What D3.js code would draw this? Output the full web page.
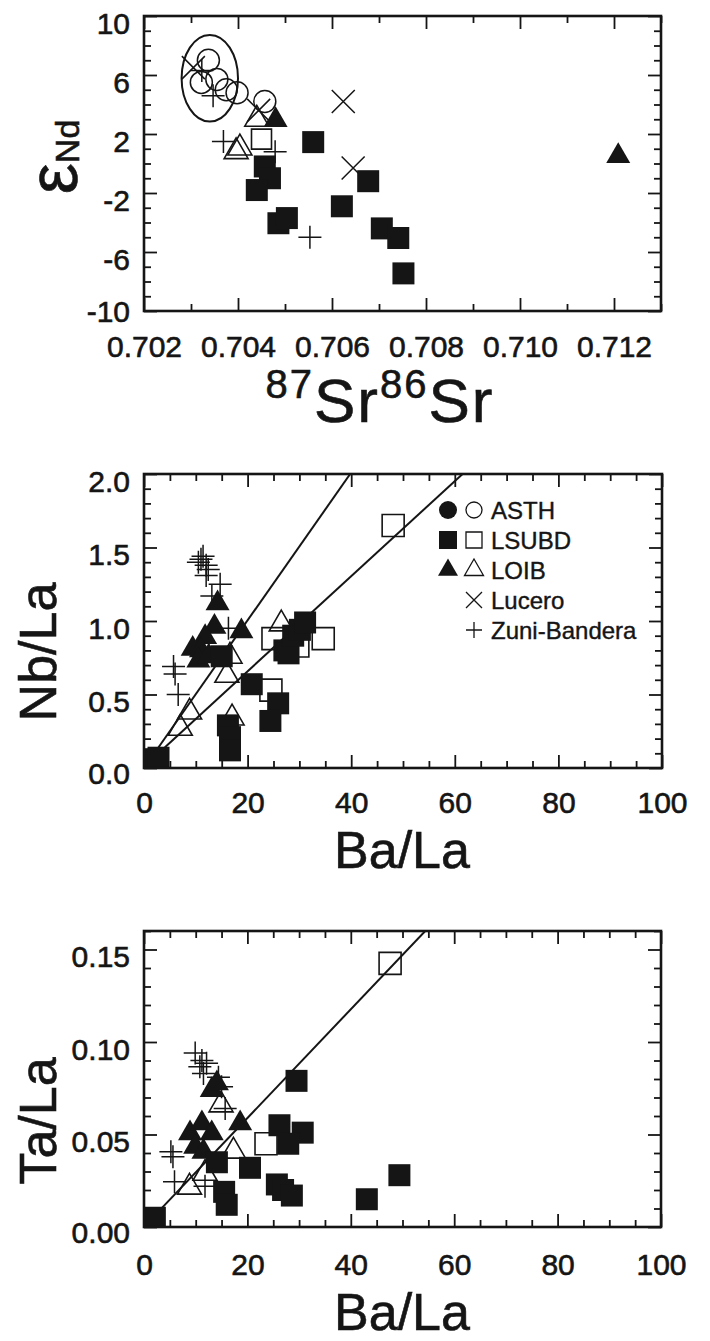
<!DOCTYPE html>
<html><head><meta charset="utf-8">
<script src="https://cdn.jsdelivr.net/npm/d3@7"></script>
<style>body{margin:0;background:#fff}svg{display:block}</style>
</head><body>
<svg id="c" width="710" height="1341"></svg>
<script>
// ---------- Panel 1 : eNd vs 87Sr/86Sr ----------
const p1XTicks = [0.702, 0.704, 0.706, 0.708, 0.710, 0.712];
const p1XMinor = [0.703, 0.705, 0.707, 0.709, 0.711, 0.713];
const p1YTicks = [10, 6, 2, -2, -6, -10];
const p1YMinor = [-9, -8, -7, -5, -4, -3, -1, 0, 1, 3, 4, 5, 7, 8, 9];
const p1Ellipse = [0.70340, 5.78, 0.00060, 2.94]; // centre x, centre y, radius x, radius y (data units)
const p1AsthOpen = [[0.70337, 7.0], [0.70322, 5.5], [0.70355, 5.7], [0.70375, 5.0], [0.70398, 4.8], [0.70457, 4.2]];
const p1Lucero = [[0.70305, 6.5], [0.70444, 3.6], [0.70624, 4.2], [0.70645, -0.3]];
const p1Zuni = [[0.70323, 6.3], [0.70347, 4.6], [0.70369, 1.5], [0.70479, 0.8], [0.70553, -5.0]];
const p1LoibOpen = [[0.70404, 1.05], [0.70396, 0.8], [0.70440, 3.0]];
const p1LoibFilled = [[0.70480, 2.95], [0.71209, 0.5]];
const p1LsubdOpen = [[0.70450, 1.65]];
const p1LsubdFilled = [[0.70560, 1.45], [0.70457, -0.2], [0.70468, -1.0], [0.70440, -1.8], [0.70486, -4.05], [0.70504, -3.7],
  [0.70621, -2.9], [0.70677, -1.2], [0.70706, -4.4], [0.70741, -5.05], [0.70752, -7.45]];

// ---------- Panel 2 : Nb/La vs Ba/La ----------
const p2XTicks = [0, 20, 40, 60, 80, 100];
const p2XMinor = [5, 10, 15, 25, 30, 35, 45, 50, 55, 65, 70, 75, 85, 90, 95];
const p2YTicks = [0.0, 0.5, 1.0, 1.5, 2.0];
const p2YMinor = [0.1, 0.2, 0.3, 0.4, 0.6, 0.7, 0.8, 0.9, 1.1, 1.2, 1.3, 1.4, 1.6, 1.7, 1.8, 1.9];
const p2LineA = [[2, 0.10], [39.8, 2.0]];
const p2LineB = [[4, 0.14], [61.5, 2.0]];
const p2LsubdFilled = [[2.0, 0.06], [2.8, 0.07], [15.0, 0.76], [20.8, 0.57], [25.9, 0.44], [24.4, 0.32], [16.2, 0.29],
  [16.6, 0.21], [16.6, 0.12], [27.1, 0.80], [27.9, 0.78], [28.8, 0.90], [30.1, 0.94], [31.1, 0.99]];
const p2LsubdOpen = [[48.1, 1.65], [24.9, 0.88], [34.6, 0.88], [24.5, 0.53], [29.7, 0.83]];
const p2LoibOpen = [[16.6, 0.76], [16.0, 0.63], [26.5, 0.98], [8.8, 0.38], [7.0, 0.27], [17.0, 0.34]];
const p2LoibFilled = [[14.2, 1.12], [13.6, 0.96], [18.8, 0.93], [11.8, 0.89], [9.4, 0.81], [11.0, 0.80], [10.5, 0.73], [12.5, 0.76]];
const p2Zuni = [[10.5, 1.40], [11.4, 1.44], [12.0, 1.38], [11.0, 1.42], [12.4, 1.35], [12.0, 1.31], [14.7, 1.25],
  [13.1, 1.17], [16.3, 0.95], [5.7, 0.69], [6.0, 0.64], [6.6, 0.50]];
const legendNames = ["ASTH", "LSUBD", "LOIB", "Lucero", "Zuni-Bandera"];

// ---------- Panel 3 : Ta/La vs Ba/La ----------
const p3XTicks = [0, 20, 40, 60, 80, 100];
const p3XMinor = [5, 10, 15, 25, 30, 35, 45, 50, 55, 65, 70, 75, 85, 90, 95];
const p3YTicks = [0.00, 0.05, 0.10, 0.15];
const p3YMinor = [0.01, 0.02, 0.03, 0.04, 0.06, 0.07, 0.08, 0.09, 0.11, 0.12, 0.13, 0.14, 0.16];
const p3Line = [[2, 0.006], [54.4, 0.16]];
const p3LsubdFilled = [[2.1, 0.005], [29.5, 0.079], [26.2, 0.055], [30.7, 0.051], [27.9, 0.045], [20.5, 0.032], [25.7, 0.023],
  [26.9, 0.020], [28.6, 0.017], [43.1, 0.015], [49.4, 0.028], [15.5, 0.019], [16.0, 0.012], [14.1, 0.035]];
const p3LsubdOpen = [[47.6, 0.1425], [23.6, 0.045]];
const p3LoibFilled = [[13.1, 0.074], [14.1, 0.0777], [8.9, 0.0506], [11.2, 0.056], [13.1, 0.0506], [18.6, 0.056], [9.9, 0.0434], [11.5, 0.0407]];
const p3LoibOpen = [[14.9, 0.066], [8.8, 0.0215], [17.3, 0.041], [11.8, 0.029]];
const p3Zuni = [[9.9, 0.094], [11.2, 0.090], [10.8, 0.0866], [12.1, 0.0885], [11.5, 0.083], [14.4, 0.081], [15.0, 0.0758],
  [15.7, 0.064], [5.2, 0.0407], [5.6, 0.038], [5.9, 0.0245], [11.8, 0.022]];

// ---------- drawing ----------
const FONT = "'Liberation Sans', Arial, Helvetica, sans-serif";
const INK = "#151515";
const TICKFS = 30, TITLEFS = 52;
const svg = d3.select("#c");
svg.append("rect").attr("width", 710).attr("height", 1341).attr("fill", "#fff");

const heavy = s => s.attr("stroke", INK).attr("stroke-width", 0.6).attr("paint-order", "stroke");

function makeAxes(g, x, y, xt, xm, yt, ym, xfmt, yfmt, cfg) {
  const [x0, x1] = x.range(), [y0, y1] = y.range();
  const style = a => {
    a.select(".domain").remove();
    a.selectAll("line").attr("stroke", INK).attr("stroke-width", 1.8);
  };
  g.append("g").attr("transform", `translate(0,${y0})`)
    .call(d3.axisBottom(x).tickValues(xm).tickSize(-7).tickFormat("")).call(style);
  const bx = g.append("g").attr("transform", `translate(0,${y0})`)
    .call(d3.axisBottom(x).tickValues(xt).tickSize(-13).tickPadding(cfg.xpad).tickFormat(xfmt)).call(style);
  bx.selectAll("text").attr("font-family", FONT).attr("font-size", TICKFS).attr("fill", INK).call(heavy);
  g.append("g").attr("transform", `translate(0,${y1})`)
    .call(d3.axisTop(x).tickValues(xm).tickSize(-7).tickFormat("")).call(style);
  g.append("g").attr("transform", `translate(0,${y1})`)
    .call(d3.axisTop(x).tickValues(xt).tickSize(-13).tickFormat("")).call(style);
  g.append("g").attr("transform", `translate(${x0},0)`)
    .call(d3.axisLeft(y).tickValues(ym).tickSize(-7).tickFormat("")).call(style);
  const ly = g.append("g").attr("transform", `translate(${x0},0)`)
    .call(d3.axisLeft(y).tickValues(yt).tickSize(-13).tickPadding(cfg.ypad).tickFormat(yfmt)).call(style);
  ly.selectAll("text").attr("font-family", FONT).attr("font-size", TICKFS).attr("fill", INK)
    .attr("dy", d => (d === y.domain()[0] ? cfg.lowDy : "0.58em")).call(heavy);
  g.append("g").attr("transform", `translate(${x1},0)`)
    .call(d3.axisRight(y).tickValues(ym).tickSize(-7).tickFormat("")).call(style);
  g.append("g").attr("transform", `translate(${x1},0)`)
    .call(d3.axisRight(y).tickValues(yt).tickSize(-13).tickFormat("")).call(style);
  g.append("rect").attr("x", x0).attr("y", y1).attr("width", x1 - x0).attr("height", y0 - y1)
    .attr("fill", "none").attr("stroke", INK).attr("stroke-width", 2.6);
}

const sqSym = d3.symbol().type(d3.symbolSquare);
const triSym = d3.symbol().type(d3.symbolTriangle);
const cirSym = d3.symbol().type(d3.symbolCircle);

function marks(g, data, kind, x, y, s) {
  const sel = g.append("g").selectAll("path").data(data).join("path")
    .attr("transform", d => `translate(${x(d[0])},${y(d[1])})`);
  if (kind === "sqF") sel.attr("d", sqSym.size(s * s)()).attr("fill", INK);
  if (kind === "sqO") sel.attr("d", sqSym.size(s * s)()).attr("fill", "none").attr("stroke", INK).attr("stroke-width", 1.6);
  if (kind === "triF") sel.attr("d", triSym.size(s * s * Math.sqrt(3) / 4)()).attr("fill", INK);
  if (kind === "triO") sel.attr("d", triSym.size(s * s * Math.sqrt(3) / 4)()).attr("fill", "none").attr("stroke", INK).attr("stroke-width", 1.6);
  if (kind === "cirO") sel.attr("d", cirSym.size(Math.PI * s * s / 4)()).attr("fill", "none").attr("stroke", INK).attr("stroke-width", 1.5);
  if (kind === "cirF") sel.attr("d", cirSym.size(Math.PI * s * s / 4)()).attr("fill", INK);
  if (kind === "x") { const h = s / 2; sel.attr("d", `M${-h},${-h}L${h},${h}M${-h},${h}L${h},${-h}`).attr("fill", "none").attr("stroke", INK).attr("stroke-width", 1.5); }
  if (kind === "plus") { const h = s / 2; sel.attr("d", `M${-h},0H${h}M0,${-h}V${h}`).attr("fill", "none").attr("stroke", INK).attr("stroke-width", 1.5); }
  return sel;
}

function fitLine(g, pts, x, y) {
  g.append("path").datum(pts)
    .attr("d", d3.line().x(d => x(d[0])).y(d => y(d[1])))
    .attr("fill", "none").attr("stroke", INK).attr("stroke-width", 2);
}
const plainNum = d => String(d);

// ===== Panel 1 =====
{
  const x = d3.scaleLinear().domain([0.702, 0.713]).range([144, 661]);
  const y = d3.scaleLinear().domain([-10, 10]).range([311, 16]);
  const g = svg.append("g");
  g.append("clipPath").attr("id", "cp1").append("rect").attr("x", 144).attr("y", 16).attr("width", 517).attr("height", 295);
  const m = g.append("g").attr("clip-path", "url(#cp1)");
  m.append("ellipse").attr("cx", x(p1Ellipse[0])).attr("cy", y(p1Ellipse[1]))
    .attr("rx", x(p1Ellipse[0] + p1Ellipse[2]) - x(p1Ellipse[0]))
    .attr("ry", y(p1Ellipse[1]) - y(p1Ellipse[1] + p1Ellipse[3]))
    .attr("fill", "none").attr("stroke", INK).attr("stroke-width", 2);
  marks(m, p1Zuni, "plus", x, y, 23);
  marks(m, p1Lucero, "x", x, y, 23);
  marks(m, p1AsthOpen, "cirO", x, y, 22);
  marks(m, p1LsubdOpen, "sqO", x, y, 20);
  marks(m, p1LoibOpen, "triO", x, y, 24);
  marks(m, p1LoibFilled, "triF", x, y, 24);
  marks(m, p1LsubdFilled, "sqF", x, y, 22);
  makeAxes(g, x, y, p1XTicks, p1XMinor, p1YTicks, p1YMinor, d3.format(".3f"), plainNum, { xpad: 25, ypad: 14, lowDy: "0.36em" });
  const yt = g.append("text").attr("transform", `translate(77,${157}) rotate(-90)`)
    .attr("text-anchor", "middle").attr("font-family", FONT).attr("fill", INK).call(heavy);
  yt.append("tspan").attr("font-size", 70).text("ε");
  yt.append("tspan").attr("font-size", 34).attr("dy", 2).text("Nd");
  const xt = g.append("text").attr("x", 380).attr("y", 422).attr("text-anchor", "middle").attr("font-family", FONT)
    .attr("fill", INK).attr("letter-spacing", 2).call(heavy);
  xt.append("tspan").attr("font-size", 40).attr("dy", -24).text("87");
  xt.append("tspan").attr("font-size", 62).attr("dy", 24).text("Sr");
  xt.append("tspan").attr("font-size", 40).attr("dy", -24).text("86");
  xt.append("tspan").attr("font-size", 62).attr("dy", 24).text("Sr");
}

// ===== Panel 2 =====
{
  const x = d3.scaleLinear().domain([0, 100]).range([144, 662]);
  const y = d3.scaleLinear().domain([0, 2]).range([768, 474]);
  const g = svg.append("g");
  g.append("clipPath").attr("id", "cp2").append("rect").attr("x", 144).attr("y", 474).attr("width", 518).attr("height", 294);
  const m = g.append("g").attr("clip-path", "url(#cp2)");
  fitLine(m, p2LineA, x, y);
  fitLine(m, p2LineB, x, y);
  marks(m, p2LsubdOpen, "sqO", x, y, 22);
  marks(m, p2LoibOpen, "triO", x, y, 24);
  marks(m, p2Zuni, "plus", x, y, 23);
  marks(m, p2LoibFilled, "triF", x, y, 24);
  marks(m, p2LsubdFilled, "sqF", x, y, 22);
  makeAxes(g, x, y, p2XTicks, p2XMinor, p2YTicks, p2YMinor, d3.format("d"), d3.format(".1f"), { xpad: 24, ypad: 14, lowDy: "0.5em" });
  const L = g.append("g").attr("font-family", FONT).attr("fill", INK);
  const rowY = i => 510 + i * 30;
  const lx1 = 448, lx2 = 474, ltx = 491;
  const leg = [["cirF", "cirO"], ["sqF", "sqO"], ["triF", "triO"], [null, "x"], [null, "plus"]];
  legendNames.forEach((name, i) => {
    const yy = rowY(i);
    const id = d3.scaleIdentity();
    if (leg[i][0]) marks(L, [[lx1, yy]], leg[i][0], id, id, leg[i][0] === "triF" ? 20 : 18);
    if (leg[i][1]) marks(L, [[lx2, yy]], leg[i][1], id, id, leg[i][1] === "triO" ? 19 : 16).attr("stroke-width", 1.3);
    L.append("text").attr("x", ltx).attr("y", yy + 9).attr("font-size", 24).text(name).call(heavy).attr("stroke-width", 0.4);
  });
  g.append("text").attr("x", 402).attr("y", 868).attr("text-anchor", "middle").attr("font-family", FONT)
    .attr("font-size", TITLEFS).attr("fill", INK).text("Ba/La").call(heavy);
  g.append("text").attr("transform", "translate(56,652) rotate(-90)").attr("text-anchor", "middle").attr("font-family", FONT)
    .attr("font-size", TITLEFS).attr("fill", INK).text("Nb/La").call(heavy);
}

// ===== Panel 3 =====
{
  const x = d3.scaleLinear().domain([0, 100]).range([144, 661]);
  const y = d3.scaleLinear().domain([0, 0.16]).range([1227, 931]);
  const g = svg.append("g");
  g.append("clipPath").attr("id", "cp3").append("rect").attr("x", 144).attr("y", 931).attr("width", 517).attr("height", 296);
  const m = g.append("g").attr("clip-path", "url(#cp3)");
  fitLine(m, p3Line, x, y);
  marks(m, p3LsubdOpen, "sqO", x, y, 22);
  marks(m, p3LoibOpen, "triO", x, y, 24);
  marks(m, p3Zuni, "plus", x, y, 23);
  marks(m, p3LoibFilled, "triF", x, y, 24);
  marks(m, p3LsubdFilled, "sqF", x, y, 22);
  makeAxes(g, x, y, p3XTicks, p3XMinor, p3YTicks, p3YMinor, d3.format("d"), d3.format(".2f"), { xpad: 27, ypad: 14, lowDy: "0.5em" });
  g.append("text").attr("x", 402).attr("y", 1330).attr("text-anchor", "middle").attr("font-family", FONT)
    .attr("font-size", TITLEFS).attr("fill", INK).text("Ba/La").call(heavy);
  g.append("text").attr("transform", "translate(56,1121) rotate(-90)").attr("text-anchor", "middle").attr("font-family", FONT)
    .attr("font-size", TITLEFS).attr("fill", INK).text("Ta/La").call(heavy);
}
</script>
</body></html>
